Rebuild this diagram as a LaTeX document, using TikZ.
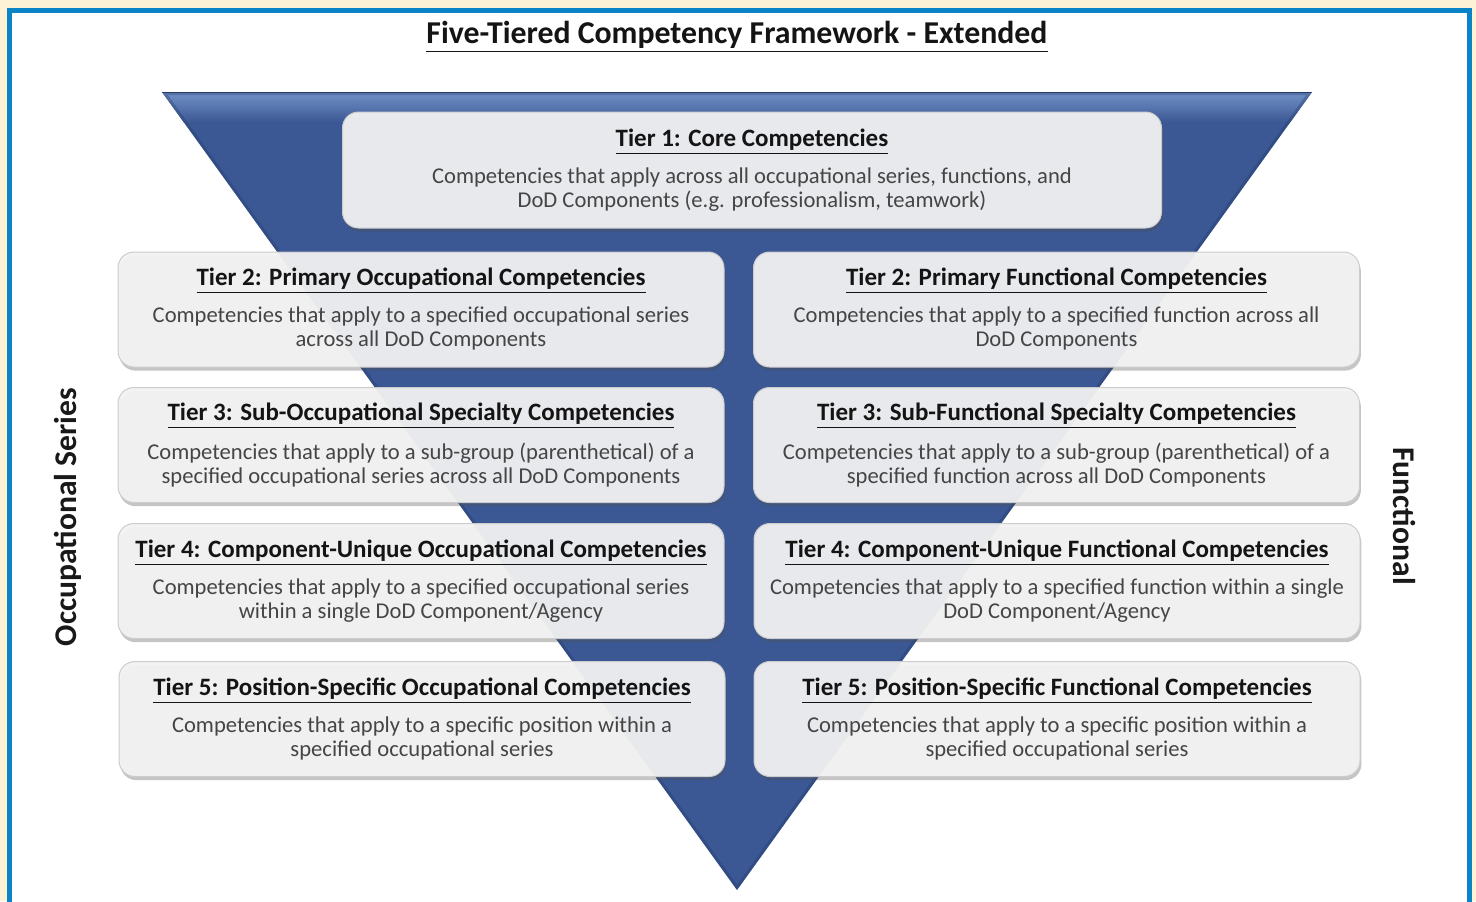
\documentclass[tikz,border=0pt]{standalone}
\usepackage{fontspec}
\setmainfont{Carlito}
\usetikzlibrary{shadows}

\definecolor{framecream}{HTML}{FDF2D5}
\definecolor{frameblue}{HTML}{0A84C6}
\definecolor{funnelblue}{HTML}{3B5894}
\definecolor{funneltop}{HTML}{7391C8}
\definecolor{funneldark}{HTML}{243B68}
\definecolor{boxgray}{HTML}{F3F3F3}
\definecolor{bodygray}{HTML}{454545}

\newcommand{\tiertitle}[1]{{\fontsize{12.5}{14}\selectfont\bfseries\color{black!92}\underline{#1}}\\[6.5pt]}

\begin{document}
\begin{tikzpicture}[x=0.5pt, y=-0.5pt,
    tierbox/.style={draw=black!20, line width=0.5pt, rounded corners=8pt,
        fill=boxgray, fill opacity=0.94, text opacity=1, text=bodygray,
        align=center, font=\fontsize{11.3}{12}\selectfont, inner sep=0pt,
        drop shadow={shadow xshift=0.7pt, shadow yshift=-1.8pt, opacity=0.32, fill=black!70}},
    sidebox/.style={tierbox, minimum width=303pt, minimum height=57.5pt},
    sidelabel/.style={font=\fontsize{15.8}{18}\selectfont\bfseries, text=black!90}]
    \clip (0,0) rectangle (1476,901);

    % frame
    \fill[framecream] (0,0) rectangle (1476,901);
    \fill[frameblue] (7,8) rectangle (1472,930);
    \fill[white] (12,13) rectangle (1467,930);

    % funnel
    \coordinate (funnelL) at (162,92);
    \coordinate (funnelR) at (1312,92);
    \coordinate (funnelTip) at (737,890);
    \fill[funnelblue] (funnelL) -- (funnelR) -- (funnelTip) -- cycle;
    \begin{scope}
        \clip (funnelL) -- (funnelR) -- (funnelTip) -- cycle;
        \shade[top color=funneltop, bottom color=funnelblue] (150,92) rectangle (1330,122);
        \draw[funneldark, line width=3pt, opacity=0.35] (funnelL) -- (funnelR) -- (funnelTip) -- cycle;
        \draw[funneldark, line width=1.2pt] (funnelL) -- (funnelR);
    \end{scope}

    \node[font=\fontsize{15.9}{18}\selectfont\bfseries, text=black!92] (title) at (737,37)
        {\underline{Five-Tiered Competency Framework - Extended}};

    % tier 1
    \node[tierbox, minimum width=409.5pt, minimum height=58pt] (tier1) at (752,170)
        {\tiertitle{Tier 1: Core Competencies}
         Competencies that apply across all occupational series, functions, and\\
         DoD Components (e.g. professionalism, teamwork)};

    % occupational column
    \node[sidebox] (occ2) at (421,309.5)
        {\tiertitle{Tier 2: Primary Occupational Competencies}
         Competencies that apply to a specified occupational series\\
         across all DoD Components};
    \node[sidebox] (occ3) at (421,445)
        {\tiertitle{Tier 3: Sub-Occupational Specialty Competencies}
         Competencies that apply to a sub-group (parenthetical) of a\\
         specified occupational series across all DoD Components};
    \node[sidebox] (occ4) at (421,581)
        {\tiertitle{Tier 4: Component-Unique Occupational Competencies}
         Competencies that apply to a specified occupational series\\
         within a single DoD Component/Agency};
    \node[sidebox] (occ5) at (422,719)
        {\tiertitle{Tier 5: Position-Specific Occupational Competencies}
         Competencies that apply to a specific position within a\\
         specified occupational series};

    % functional column
    \node[sidebox] (fun2) at (1056.5,309.5)
        {\tiertitle{Tier 2: Primary Functional Competencies}
         Competencies that apply to a specified function across all\\
         DoD Components};
    \node[sidebox] (fun3) at (1056.5,445)
        {\tiertitle{Tier 3: Sub-Functional Specialty Competencies}
         Competencies that apply to a sub-group (parenthetical) of a\\
         specified function across all DoD Components};
    \node[sidebox] (fun4) at (1057,581)
        {\tiertitle{Tier 4: Component-Unique Functional Competencies}
         Competencies that apply to a specified function within a single\\
         DoD Component/Agency};
    \node[sidebox] (fun5) at (1057,719)
        {\tiertitle{Tier 5: Position-Specific Functional Competencies}
         Competencies that apply to a specific position within a\\
         specified occupational series};

    % side labels
    \node[sidelabel, rotate=90] (occlabel) at (68,517) {Occupational Series};
    \node[sidelabel, rotate=-90] (funlabel) at (1404,516) {Functional};
\end{tikzpicture}
\end{document}
